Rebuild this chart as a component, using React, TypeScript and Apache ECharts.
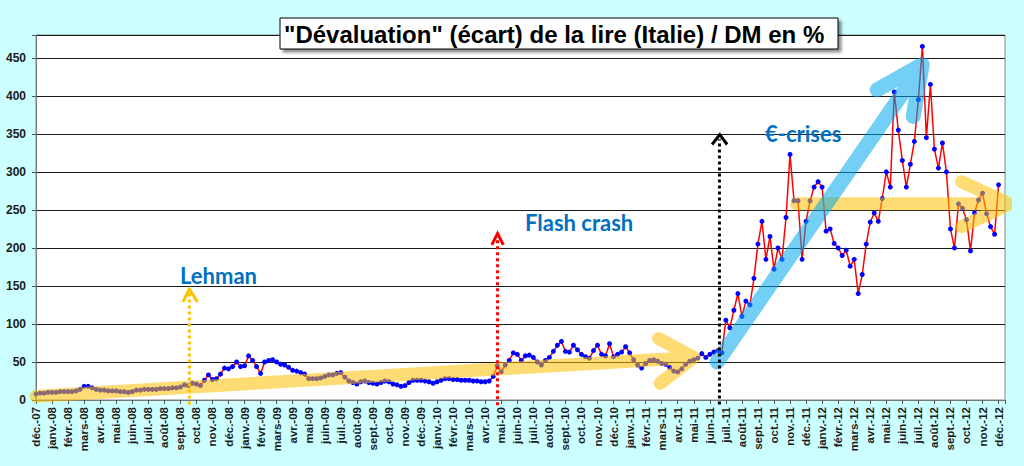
import { useEffect, useRef } from 'react';
import * as echarts from 'echarts';
import type { EChartsOption } from 'echarts';

// month axis: 0 = déc.-07 ... 60 = déc.-12
const monthNames = ['janv.', 'févr.', 'mars', 'avr.', 'mai', 'juin', 'juil.', 'août', 'sept.', 'oct.', 'nov.', 'déc.'];
const years = ['08', '09', '10', '11', '12'];
const monthLabels: string[] = ['déc.-07'];
years.forEach((y) => monthNames.forEach((n) => monthLabels.push(`${n}-${y}`)));

// weekly readings (4 per month), écart en %
const values2007 = [8, 9, 9, 10];
const values2008 = [
  10, 10, 11, 11, 11, 11, 12, 14, 18, 18, 16, 14, 13, 13, 12, 12, 12, 11, 11, 10, 11, 13, 13, 14,
  14, 14, 14, 15, 15, 15, 16, 16, 17, 20, 19, 22, 21, 19, 26, 33, 27, 28, 34, 42, 41, 44, 50, 44,
];
const values2009 = [
  45, 58, 52, 44, 35, 50, 52, 53, 50, 47, 46, 43, 39, 38, 36, 34, 28, 28, 28, 29, 31, 33, 33, 35,
  36, 30, 25, 23, 21, 24, 25, 23, 22, 21, 23, 25, 24, 21, 20, 18, 19, 23, 26, 26, 26, 25, 24, 22,
];
const values2010 = [
  24, 26, 28, 28, 27, 27, 26, 26, 26, 25, 25, 24, 24, 25, 31, 45, 37, 46, 52, 62, 60, 52, 58, 59,
  56, 50, 46, 52, 56, 64, 72, 77, 64, 63, 72, 66, 60, 57, 55, 65, 72, 60, 58, 74, 57, 60, 63, 70,
];
const values2011 = [
  62, 53, 46, 42, 48, 52, 53, 51, 48, 47, 43, 38, 37, 41, 47, 51, 53, 55, 61, 56, 60, 63, 65, 62,
  105, 95, 118, 140, 110, 130, 125, 160, 205, 235, 185, 215, 172, 200, 185, 240, 323, 262, 262, 185,
  235, 262, 280, 287,
];
const values2012 = [
  280, 222, 225, 206, 200, 190, 197, 176, 185, 140, 165, 205, 234, 246, 235, 265, 300, 280, 405, 355,
  315, 280, 310, 340, 395, 465, 345, 415, 330, 305, 338, 300, 225, 200, 258, 252, 237, 196, 246, 263,
  272, 245, 228, 218, 283,
];

// annotation arrows as [month index, %] points
const trendLow = [[0, 5], [41, 56], [38.8, 81], [41, 56], [38.9, 22]];
const trendHigh = [[47.4, 258], [60.7, 258], [57.7, 287], [60.7, 258], [57.7, 228]];
const euroArrow = [[42.46, 50], [55.24, 441], [52.43, 408], [55.24, 441], [54.68, 373]];
const lehmanLine = [[9.56, -6], [9.56, 140]];
const lehmanHead = [[9.16, 129], [9.56, 146], [10.06, 129]];
const flashLine = [[28.77, -7], [28.77, 214]];
const flashHead = [[28.41, 204], [28.77, 219], [29.13, 204]];
const crisisLine = [[42.6, -6], [42.6, 343]];
const crisisHead = [[42.14, 336], [42.62, 349], [43.08, 336]];

const toPoints = (start: number, values: number[]) => values.map((v, i) => [start + i * 0.25, v]);

const seriesData = [
  ...toPoints(0, values2007),
  ...toPoints(1, values2008),
  ...toPoints(13, values2009),
  ...toPoints(25, values2010),
  ...toPoints(37, values2011),
  ...toPoints(49, values2012),
];

const band = (data: number[][], color: string, width: number, clip: boolean) => ({
  type: 'line' as const,
  data,
  showSymbol: false,
  silent: true,
  clip,
  z: 5,
  lineStyle: { color, width, opacity: 0.55, cap: 'round' as const, join: 'round' as const },
});

const dotted = (data: number[][], color: string) => ({
  type: 'line' as const,
  data,
  showSymbol: false,
  silent: true,
  clip: false,
  z: 6,
  lineStyle: { color, width: 3, type: [3, 3] as number[] },
});

const head = (data: number[][], color: string) => ({
  type: 'line' as const,
  data,
  showSymbol: false,
  silent: true,
  clip: false,
  z: 6,
  lineStyle: { color, width: 3, join: 'miter' as const },
});

const noteFont = 'Lato, "Open Sans", sans-serif';
const title = '"Dévaluation" (écart) de la lire (Italie) / DM en %';

export default function App() {
  const chartRef = useRef<HTMLDivElement>(null);

  useEffect(() => {
    if (!chartRef.current) return;
    const chart = echarts.init(chartRef.current, undefined, { renderer: 'svg' });

    const option: EChartsOption = {
      animation: false,
      backgroundColor: '#CCFFFF',
      grid: {
        left: 36,
        right: 19,
        top: 35,
        bottom: 66,
        show: true,
        backgroundColor: '#ffffff',
        borderColor: '#888888',
        borderWidth: 1,
      },
      xAxis: {
        type: 'value',
        min: 0,
        max: 60.4,
        interval: 1,
        axisLine: { show: true, lineStyle: { color: '#777777' } },
        axisTick: { show: true, length: 4, lineStyle: { color: '#555555' } },
        splitLine: { show: false },
        axisLabel: {
          rotate: 90,
          margin: 7,
          fontFamily: '"Liberation Sans", Arial, sans-serif',
          fontWeight: 'bold',
          fontSize: 11.5,
          color: '#1a1a1a',
          formatter: (v: number) => {
            const r = Math.round(v);
            return Math.abs(v - r) < 1e-6 && monthLabels[r] ? monthLabels[r] : '';
          },
        },
      },
      yAxis: {
        type: 'value',
        min: 0,
        max: 480,
        interval: 50,
        axisLine: { show: true, lineStyle: { color: '#777777' } },
        axisTick: { show: true, length: 4, lineStyle: { color: '#555555' } },
        splitLine: { show: true, lineStyle: { color: '#1a1a1a', width: 1 } },
        axisLabel: {
          margin: 10,
          fontFamily: '"Liberation Sans", Arial, sans-serif',
          fontWeight: 'bold',
          fontSize: 12,
          color: '#1a1a1a',
          formatter: (v: number) => (v > 450 ? '' : String(v)),
        },
      },
      series: [
        {
          type: 'line',
          data: seriesData,
          symbol: 'circle',
          symbolSize: 5,
          showSymbol: true,
          z: 3,
          lineStyle: { color: '#FF0000', width: 1.5 },
          itemStyle: { color: '#0000FF' },
        },
        band(trendLow, '#FFC000', 13, true),
        band(trendHigh, '#FFC000', 13, false),
        band(euroArrow, '#00A8EC', 15, false),
        dotted(lehmanLine, '#FFC000'),
        head(lehmanHead, '#FFC000'),
        dotted(flashLine, '#FF0000'),
        head(flashHead, '#FF0000'),
        dotted(crisisLine, '#000000'),
        head(crisisHead, '#000000'),
      ],
      graphic: [
        {
          type: 'rect',
          z: 100,
          shape: { x: 280, y: 18, width: 558, height: 31 },
          style: {
            fill: '#ffffff',
            stroke: '#000000',
            lineWidth: 1,
            shadowColor: 'rgba(0,0,0,0.45)',
            shadowBlur: 3,
            shadowOffsetX: 3,
            shadowOffsetY: 3,
          },
        },
        {
          type: 'text',
          z: 101,
          x: 284,
          y: 34,
          style: {
            text: title,
            fill: '#000000',
            font: 'bold 24px "Liberation Sans", Arial, sans-serif',
            verticalAlign: 'middle',
          },
        },
        {
          type: 'text',
          z: 101,
          x: 180,
          y: 275,
          style: { text: 'Lehman', fill: '#0070C0', font: `bold 22px ${noteFont}`, verticalAlign: 'middle' },
        },
        {
          type: 'text',
          z: 101,
          x: 525,
          y: 222,
          style: { text: 'Flash crash', fill: '#0070C0', font: `bold 22px ${noteFont}`, verticalAlign: 'middle' },
        },
        {
          type: 'text',
          z: 101,
          x: 765,
          y: 133,
          style: { text: '€-crises', fill: '#0070C0', font: `bold 22px ${noteFont}`, verticalAlign: 'middle' },
        },
      ],
    };

    chart.setOption(option);
    return () => {
      chart.dispose();
    };
  }, []);

  return (
    <div
      ref={chartRef}
      style={{ position: 'fixed', left: 0, top: 0, width: 1024, height: 466, background: '#CCFFFF' }}
    />
  );
}
